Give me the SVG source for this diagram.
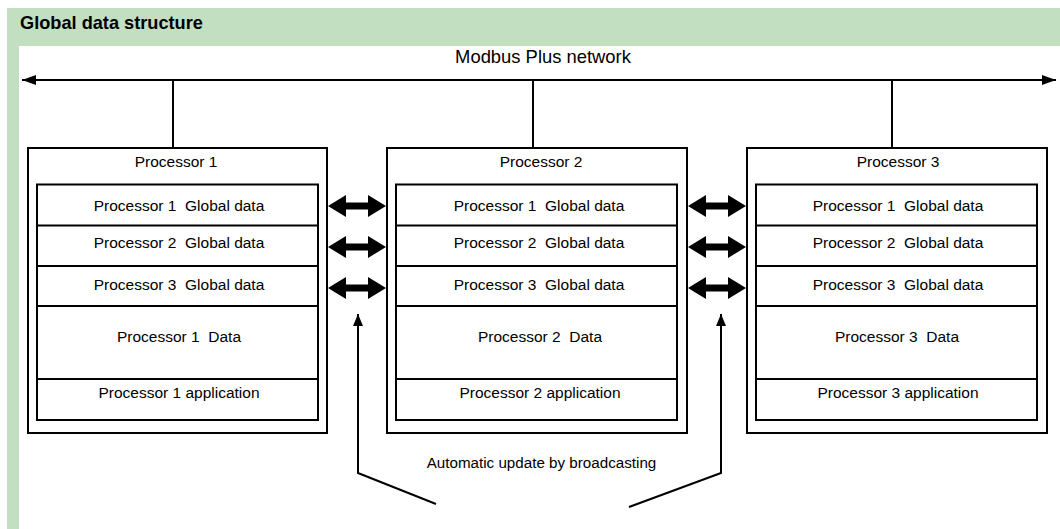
<svg xmlns="http://www.w3.org/2000/svg" width="1060" height="529" viewBox="0 0 1060 529">
  <style>
    text { white-space: pre; }
    .t { font-family: "Liberation Sans", Arial, sans-serif; font-size: 15.5px; fill: #000; text-anchor: middle; }
    .title { font-family: "Liberation Sans", Arial, sans-serif; font-size: 18.2px; font-weight: bold; fill: #000; }
    .net { font-family: "Liberation Sans", Arial, sans-serif; font-size: 18.4px; fill: #000; text-anchor: middle; }
    .box { fill: #fff; stroke: #000; stroke-width: 2; }
    .ln { fill: none; stroke: #000; stroke-width: 2; }
    .dbl { fill: #000; stroke: none; }
  </style>
  <defs>
    <marker id="ah" viewBox="0 0 12 10" refX="12" refY="5" markerWidth="12" markerHeight="10" markerUnits="userSpaceOnUse" orient="auto-start-reverse">
      <path d="M0,0 L12,5 L0,10 Z" fill="#000"/>
    </marker>
    <marker id="ahn" viewBox="0 0 14 10" refX="14" refY="5" markerWidth="14" markerHeight="10" markerUnits="userSpaceOnUse" orient="auto-start-reverse">
      <path d="M0,0 L14,5 L0,10 Z" fill="#000"/>
    </marker>
    <polygon id="dblarrow" points="0,0 18,-11 18,-3.5 40,-3.5 40,-11 58,0 40,11 40,3.5 18,3.5 18,11" class="dbl"/>
  </defs>

  <rect x="0" y="0" width="1060" height="529" fill="#fff"/>
  <g id="frame">
    <rect x="7" y="8" width="1053" height="38" fill="#c2dfc2"/>
    <rect x="7" y="8" width="12" height="521" fill="#c2dfc2"/>
    <text class="title" x="20" y="29">Global data structure</text>
  </g>

  <g id="network">
    <text class="net" x="543" y="63">Modbus Plus network</text>
  </g>

  <g id="connectors">
    <line class="ln" x1="22" y1="80" x2="1056" y2="80" marker-start="url(#ahn)" marker-end="url(#ahn)"/>
    <line class="ln" x1="173" y1="80" x2="173" y2="148"/>
    <line class="ln" x1="533" y1="80" x2="533" y2="148"/>
    <line class="ln" x1="892" y1="80" x2="892" y2="148"/>
    <use href="#dblarrow" x="328" y="206"/>
    <use href="#dblarrow" x="328" y="247"/>
    <use href="#dblarrow" x="328" y="288"/>
    <use href="#dblarrow" x="688" y="206"/>
    <use href="#dblarrow" x="688" y="247"/>
    <use href="#dblarrow" x="688" y="288"/>
    <polyline class="ln" points="436,504 358,473 358,314" marker-end="url(#ah)"/>
    <polyline class="ln" points="629,507 721,473 721,314" marker-end="url(#ah)"/>
    <text class="t" x="541.5" y="468" style="font-size:15.2px">Automatic update by broadcasting</text>
  </g>

  <g id="processor1">
    <rect class="box" x="28" y="148" width="299" height="285"/>
    <text class="t" x="176" y="167">Processor 1</text>
    <rect class="box" x="37" y="184.5" width="281" height="235.5"/>
    <line class="ln" x1="37" y1="225.5" x2="318" y2="225.5"/>
    <line class="ln" x1="37" y1="266" x2="318" y2="266"/>
    <line class="ln" x1="37" y1="306" x2="318" y2="306"/>
    <line class="ln" x1="37" y1="379" x2="318" y2="379"/>
    <text class="t" x="179" y="211">Processor 1  Global data</text>
    <text class="t" x="179" y="248">Processor 2  Global data</text>
    <text class="t" x="179" y="290">Processor 3  Global data</text>
    <text class="t" x="179" y="342">Processor 1  Data</text>
    <text class="t" x="179" y="398">Processor 1 application</text>
  </g>

  <g id="processor2">
    <rect class="box" x="387" y="148" width="300" height="285"/>
    <text class="t" x="541" y="167">Processor 2</text>
    <rect class="box" x="396" y="184.5" width="281" height="235.5"/>
    <line class="ln" x1="396" y1="225.5" x2="677" y2="225.5"/>
    <line class="ln" x1="396" y1="266" x2="677" y2="266"/>
    <line class="ln" x1="396" y1="306" x2="677" y2="306"/>
    <line class="ln" x1="396" y1="379" x2="677" y2="379"/>
    <text class="t" x="539" y="211">Processor 1  Global data</text>
    <text class="t" x="539" y="248">Processor 2  Global data</text>
    <text class="t" x="539" y="290">Processor 3  Global data</text>
    <text class="t" x="540" y="342">Processor 2  Data</text>
    <text class="t" x="540" y="398">Processor 2 application</text>
  </g>

  <g id="processor3">
    <rect class="box" x="747" y="148" width="300" height="285"/>
    <text class="t" x="898" y="167">Processor 3</text>
    <rect class="box" x="756" y="184.5" width="281" height="235.5"/>
    <line class="ln" x1="756" y1="225.5" x2="1037" y2="225.5"/>
    <line class="ln" x1="756" y1="266" x2="1037" y2="266"/>
    <line class="ln" x1="756" y1="306" x2="1037" y2="306"/>
    <line class="ln" x1="756" y1="379" x2="1037" y2="379"/>
    <text class="t" x="898" y="211">Processor 1  Global data</text>
    <text class="t" x="898" y="248">Processor 2  Global data</text>
    <text class="t" x="898" y="290">Processor 3  Global data</text>
    <text class="t" x="897" y="342">Processor 3  Data</text>
    <text class="t" x="898" y="398">Processor 3 application</text>
  </g>
</svg>
